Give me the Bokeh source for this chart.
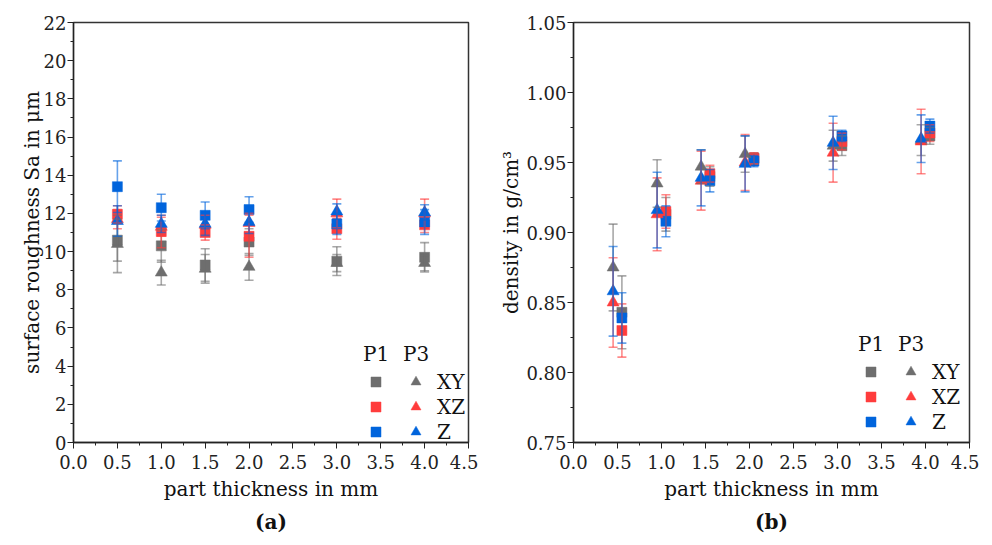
import numpy as np
from bokeh.plotting import figure
from bokeh.layouts import row
from bokeh.models import (ColumnDataSource, Whisker, TeeHead, Range1d, FixedTicker,
                          PrintfTickFormatter, Legend, LegendItem, Title)
from bokeh.transform import dodge
from bokeh.embed import file_html
from bokeh.resources import INLINE

# ---------------- data ----------------
thickness = [0.5, 1.0, 1.5, 2.0, 3.0, 4.0]

# (a) surface roughness Sa in um
sa_xy_p1 = [10.6, 10.3, 9.3, 10.5, 9.5, 9.7]
sa_xy_p1_err = [1.1, 0.85, 0.85, 0.7, 0.75, 0.77]
sa_xy_p3 = [10.4, 8.9, 9.1, 9.2, 9.4, 9.4]
sa_xy_p3_err = [1.5, 0.65, 0.75, 0.7, 0.45, 0.4]
sa_xz_p1 = [11.95, 11.05, 11.0, 10.8, 11.2, 11.4]
sa_xz_p1_err = [0.45, 0.85, 0.4, 1.1, 0.55, 0.4]
sa_xz_p3 = [11.7, 11.3, 11.4, 11.5, 12.0, 12.0]
sa_xz_p3_err = [0.5, 0.5, 0.5, 0.5, 0.75, 0.75]
sa_z_p1 = [13.4, 12.3, 11.9, 12.2, 11.45, 11.55]
sa_z_p1_err = [1.35, 0.7, 0.7, 0.67, 0.55, 0.65]
sa_z_p3 = [11.6, 11.45, 11.45, 11.55, 12.1, 12.05]
sa_z_p3_err = [0.8, 0.45, 0.6, 0.6, 0.4, 0.4]

# (b) density in g/cm3
rho_xy_p1 = [0.843, 0.913, 0.940, 0.953, 0.962, 0.969]
rho_xy_p1_err = [0.026, 0.012, 0.007, 0.004, 0.007, 0.006]
rho_xz_p1 = [0.830, 0.915, 0.942, 0.953, 0.965, 0.971]
rho_xz_p1_err = [0.019, 0.012, 0.006, 0.004, 0.006, 0.006]
rho_z_p1 = [0.839, 0.908, 0.937, 0.951, 0.969, 0.976]
rho_z_p1_err = [0.018, 0.011, 0.008, 0.004, 0.004, 0.005]
rho_xy_p3 = [0.875, 0.935, 0.947, 0.956, 0.962, 0.966]
rho_xy_p3_err = [0.031, 0.017, 0.012, 0.013, 0.011, 0.011]
rho_xz_p3 = [0.850, 0.913, 0.937, 0.950, 0.957, 0.965]
rho_xz_p3_err = [0.032, 0.026, 0.021, 0.020, 0.021, 0.023]
rho_z_p3 = [0.858, 0.916, 0.939, 0.949, 0.964, 0.967]
rho_z_p3_err = [0.032, 0.027, 0.020, 0.020, 0.019, 0.017]

x_ticks = [0.0, 0.5, 1.0, 1.5, 2.0, 2.5, 3.0, 3.5, 4.0, 4.5]
x_minor = [0.25, 0.75, 1.25, 1.75, 2.25, 2.75, 3.25, 3.75, 4.25]
sa_ticks = [0, 2, 4, 6, 8, 10, 12, 14, 16, 18, 20, 22]
sa_minor = [1, 3, 5, 7, 9, 11, 13, 15, 17, 19, 21]
rho_ticks = [0.75, 0.80, 0.85, 0.90, 0.95, 1.00, 1.05]
rho_minor = [0.775, 0.825, 0.875, 0.925, 0.975, 1.025]
row_labels = ["XY", "XZ", "Z"]

GRAY = "#6e6e6e"
RED = "#ff3c3c"
BLUE = "#0064dc"
FONT = "DejaVu Serif"


def style(p, yticks, yminor, yfmt, ytitle, caption, ystand):
    p.x_range = Range1d(0, 4.5)
    p.xgrid.visible = False
    p.ygrid.visible = False
    p.outline_line_color = "#333333"
    p.outline_line_width = 1.5
    p.background_fill_color = "white"
    p.border_fill_color = "white"
    p.xaxis.ticker = FixedTicker(ticks=x_ticks, minor_ticks=x_minor)
    p.xaxis.formatter = PrintfTickFormatter(format="%.1f")
    p.yaxis.ticker = FixedTicker(ticks=yticks, minor_ticks=yminor)
    p.yaxis.formatter = PrintfTickFormatter(format=yfmt)
    p.xaxis.axis_label = "part thickness in mm"
    p.yaxis.axis_label = ytitle
    for ax in (p.xaxis[0], p.yaxis[0]):
        ax.axis_line_color = "#222222"
        ax.axis_line_width = 1.3
        ax.major_tick_line_color = "#222222"
        ax.minor_tick_line_color = "#222222"
        ax.major_tick_in = 0
        ax.major_tick_out = 6
        ax.minor_tick_in = 0
        ax.minor_tick_out = 3
        ax.major_label_text_font = FONT
        ax.major_label_text_font_size = "18px"
        ax.major_label_text_font_style = "normal"
        ax.major_label_text_color = "#222222"
        ax.axis_label_text_font = FONT
        ax.axis_label_text_font_size = "20px"
        ax.axis_label_text_font_style = "normal"
        ax.axis_label_text_color = "#111111"
    p.xaxis.major_label_standoff = 6
    p.xaxis.axis_label_standoff = 5
    p.yaxis.major_label_standoff = 1
    p.yaxis.axis_label_standoff = ystand
    t = Title(text=caption, align="center", text_font=FONT, text_font_size="20px",
              text_font_style="bold", text_color="#111111", standoff=8)
    p.add_layout(t, "below")


def series(p, x, y, err, color, marker, size, shift):
    src = ColumnDataSource(dict(x=x, y=y,
                                upper=[a + b for a, b in zip(y, err)],
                                lower=[a - b for a, b in zip(y, err)]))
    xs = dodge("x", shift) if shift else "x"
    r = p.scatter(x=xs, y="y", source=src, marker=marker, size=size,
                  fill_color=color, line_color=color, line_width=0.5)
    w = Whisker(base=xs, upper="upper", lower="lower", source=src, dimension="height",
                line_color=color, line_alpha=0.6, line_width=1.6, level="annotation",
                upper_head=TeeHead(size=9, line_color=color, line_alpha=0.6, line_width=1.6),
                lower_head=TeeHead(size=9, line_color=color, line_alpha=0.6, line_width=1.6))
    p.add_layout(w)
    return r


def legends(p, sq, tri, loc_sq, loc_tri, spacing):
    common = dict(glyph_width=25, glyph_height=25, label_height=20, label_width=0,
                  padding=0, margin=0, spacing=spacing, label_standoff=9,
                  background_fill_alpha=0, border_line_alpha=0,
                  label_text_font=FONT, label_text_font_size="20px",
                  label_text_font_style="normal",
                  label_text_color="#111111",
                  title_text_font=FONT, title_text_font_size="20px",
                  title_text_font_style="normal", title_text_color="#111111",
                  title_standoff=3)
    l1 = Legend(items=[LegendItem(label=" ", renderers=[r]) for r in sq],
                location=loc_sq, title="P1", **common)
    l2 = Legend(items=[LegendItem(label=n, renderers=[r]) for n, r in zip(row_labels, tri)],
                location=loc_tri, title="P3", **common)
    p.add_layout(l1)
    p.add_layout(l2)


# ---------------- (a) ----------------
pa = figure(frame_width=395, frame_height=420, min_border_left=73, min_border_right=10,
            min_border_top=22, min_border_bottom=40, output_backend="svg",
            toolbar_location=None, y_range=Range1d(0, 22))
style(pa, sa_ticks, sa_minor, "%d", "surface roughness Sa in μm", "(a)", -3)
a_tri = [series(pa, thickness, sa_xy_p3, sa_xy_p3_err, GRAY, "triangle", 12, 0)]
a_sq = [series(pa, thickness, sa_xy_p1, sa_xy_p1_err, GRAY, "square", 10, 0)]
a_tri.append(series(pa, thickness, sa_xz_p3, sa_xz_p3_err, RED, "triangle", 12, 0))
a_sq.append(series(pa, thickness, sa_xz_p1, sa_xz_p1_err, RED, "square", 10, 0))
a_tri.append(series(pa, thickness, sa_z_p3, sa_z_p3_err, BLUE, "triangle", 12, 0))
a_sq.append(series(pa, thickness, sa_z_p1, sa_z_p1_err, BLUE, "square", 10, 0))
legends(pa, a_sq, a_tri, (290, -2), (330, -2), -4)

# ---------------- (b) ----------------
pb = figure(frame_width=396, frame_height=420, min_border_left=95, min_border_right=10,
            min_border_top=22, min_border_bottom=40, output_backend="svg",
            toolbar_location=None, y_range=Range1d(0.75, 1.05))
style(pb, rho_ticks, rho_minor, "%.2f", "density in g/cm³", "(b)", 0)
b_sq = [series(pb, thickness, rho_xy_p1, rho_xy_p1_err, GRAY, "square", 10, 0.05)]
b_sq.append(series(pb, thickness, rho_xz_p1, rho_xz_p1_err, RED, "square", 10, 0.05))
b_sq.append(series(pb, thickness, rho_z_p1, rho_z_p1_err, BLUE, "square", 10, 0.05))
b_tri = [series(pb, thickness, rho_xy_p3, rho_xy_p3_err, GRAY, "triangle", 12, -0.05)]
b_tri.append(series(pb, thickness, rho_xz_p3, rho_xz_p3_err, RED, "triangle", 12, -0.05))
b_tri.append(series(pb, thickness, rho_z_p3, rho_z_p3_err, BLUE, "triangle", 12, -0.05))
legends(pb, b_sq, b_tri, (285, 8), (325, 8), -1)

layout = row(pa, pb)
open("out.html", "w").write(file_html(layout, INLINE))
